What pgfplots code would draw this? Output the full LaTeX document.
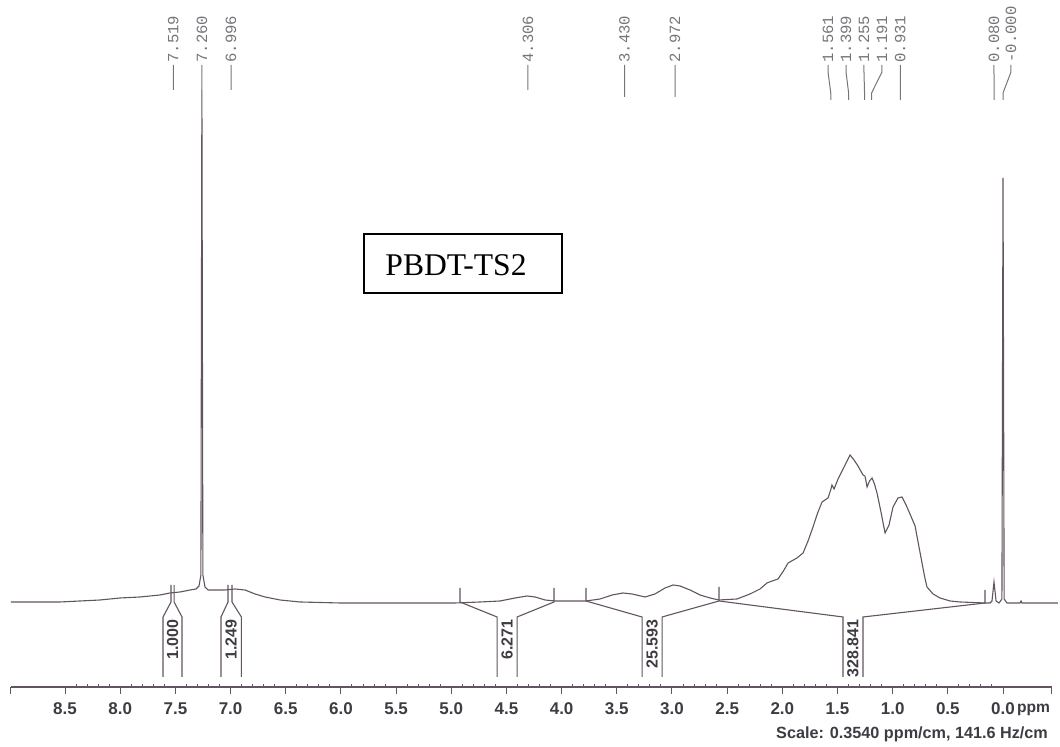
\documentclass[border=0pt]{standalone}
\usepackage{pgfplots}
\pgfplotsset{compat=1.18}
\usepackage{pgfplotstable}
\usepackage{fontspec}
\setmainfont{Liberation Sans}
\newfontfamily\boxfont{Liberation Serif}
\newfontfamily\monofont{Liberation Mono}
\definecolor{spec}{RGB}{98,84,96}
\definecolor{txt}{RGB}{62,60,66}
\definecolor{lbl}{RGB}{120,116,122}

% spectrum: chemical shift (ppm) vs. intensity (arbitrary units)
\pgfplotstableread{
ppm y
8.990 145
8.546 145
8.183 147
8.002 149
7.821 150
7.639 152
7.549 154
7.458 155
7.367 157
7.313 158
7.286 161
7.269 172
7.260 657
7.251 172
7.232 160
7.204 157
7.141 157
7.050 157
6.960 158
6.869 157
6.778 153
6.688 150
6.552 147
6.371 145
6.008 144
5.464 144
4.966 144
4.739 145
4.558 146
4.422 149
4.314 151
4.241 150
4.150 147
4.060 146
3.924 146
3.779 146
3.652 148
3.543 152
3.444 154
3.362 153
3.244 150
3.154 153
3.063 159
2.990 162
2.927 161
2.836 157
2.746 152
2.655 149
2.574 147
2.411 148
2.293 153
2.202 158
2.139 164
2.093 166
2.039 168
1.990 176
1.948 184
1.867 189
1.812 194
1.767 206
1.722 220
1.680 234
1.640 245
1.586 249
1.559 258
1.550 262
1.531 258
1.495 268
1.440 280
1.386 292
1.350 287
1.314 281
1.269 272
1.251 271
1.232 260
1.210 266
1.187 269
1.165 263
1.142 254
1.106 235
1.069 214
1.033 222
0.997 240
0.952 249
0.915 250
0.879 242
0.843 233
0.797 221
0.770 205
0.734 184
0.710 170
0.689 160
0.634 153
0.571 149
0.480 146
0.390 145
0.163 144
0.118 144
0.100 146
0.082 165
0.063 146
0.036 144
0.010 148
0.000 569
-0.010 148
-0.036 144
-0.154 144
-0.163 146
-0.172 144
-0.498 144
}\spectrum

% integral brackets (segments separated by nan)
\pgfplotstableread{
ppm y
7.540 162
7.540 145
7.612 130
7.612 70
nan nan
7.512 162
7.512 145
7.440 130
7.440 70
nan nan
7.023 162
7.023 145
7.087 130
7.087 70
nan nan
6.987 162
6.987 145
6.902 130
6.902 70
nan nan
4.921 159
4.921 145
4.585 130
4.585 70
nan nan
4.069 159
4.069 145
4.404 130
4.404 70
nan nan
3.779 159
3.779 146
3.271 130
3.271 70
nan nan
2.574 160
2.574 146
3.090 130
3.090 70
nan nan
2.574 146
1.450 130
1.450 70
nan nan
0.163 157
0.163 144
1.269 130
1.269 70
}\integrals

% peak label leader lines: label position, peak position
\pgfplotstableread{
ppm y
7.519 682
7.519 657
nan nan
7.260 682
7.260 657
nan nan
6.996 682
6.996 657
nan nan
4.306 682
4.306 657
nan nan
3.430 682
3.430 650
nan nan
2.972 682
2.972 650
nan nan
1.586 682
1.586 675
1.561 654
1.561 647
nan nan
1.423 682
1.423 675
1.399 654
1.399 647
nan nan
1.260 682
1.260 675
1.255 654
1.255 647
nan nan
1.097 682
1.097 675
1.191 654
1.191 647
nan nan
0.931 682
0.931 647
nan nan
0.082 682
0.082 675
0.080 654
0.080 647
nan nan
-0.072 682
-0.072 675
0.000 654
0.000 647
}\leaders

\begin{document}
\begin{tikzpicture}
\useasboundingbox (0,0) rectangle (530pt,373.5pt);
\begin{axis}[
  at={(5.5pt,30pt)}, anchor=south west,
  scale only axis, width=520.3pt, height=343.5pt,
  xmin=-0.44, xmax=8.99, ymin=60, ymax=747,
  x dir=reverse,
  axis x line*=bottom, axis y line=none,
  x axis line style={-, draw=spec, line width=0.6pt},
  clip=false,
  xtick={0,0.5,1,1.5,2,2.5,3,3.5,4,4.5,5,5.5,6,6.5,7,7.5,8,8.5},
  minor x tick num=4,
  extra x ticks={-0.44,8.99}, extra x tick labels={},
  tick align=outside,
  major tick length=3.5pt, minor tick length=1.5pt,
  every tick/.style={draw=spec, line width=0.5pt},
  minor tick style={yshift=1.5pt, draw=spec, line width=0.5pt},
  x tick label style={font=\bfseries\fontsize{8.5}{10}\selectfont, text=txt, yshift=-1pt,
     /pgf/number format/.cd, fixed, fixed zerofill, precision=1, assume math mode=true, /tikz/.cd},
  unbounded coords=jump,
]
\addplot[spec, line width=0.55pt] table[x=ppm,y=y]{\spectrum};
\addplot[spec, line width=0.55pt] table[x=ppm,y=y]{\integrals};
\addplot[lbl, line width=0.5pt] table[x=ppm,y=y]{\leaders};

% integral values
\begin{scope}[every node/.style={rotate=90, anchor=east, inner sep=0pt, text=txt,
    font=\bfseries\fontsize{8}{9}\selectfont}]
\node at (axis cs:7.526,128) {1.000};
\node at (axis cs:6.995,128) {1.249};
\node at (axis cs:4.495,128) {6.271};
\node at (axis cs:3.180,128) {25.593};
\node at (axis cs:1.360,128) {328.841};
\end{scope}

% peak labels
\begin{scope}[every node/.style={rotate=90, anchor=west, inner sep=0pt, text=lbl,
    font=\monofont\fontsize{7.8}{9}\selectfont}]
\node at (axis cs:7.519,684) {7.519};
\node at (axis cs:7.260,684) {7.260};
\node at (axis cs:6.996,684) {6.996};
\node at (axis cs:4.306,684) {4.306};
\node at (axis cs:3.430,684) {3.430};
\node at (axis cs:2.972,684) {2.972};
\node at (axis cs:1.586,684) {1.561};
\node at (axis cs:1.423,684) {1.399};
\node at (axis cs:1.260,684) {1.255};
\node at (axis cs:1.097,684) {1.191};
\node at (axis cs:0.931,684) {0.931};
\node at (axis cs:0.082,684) {0.080};
\node at (axis cs:-0.072,684) {-0.000};
\end{scope}

% sample label box
\draw[black, line width=0.8pt] (axis cs:5.791,513) rectangle (axis cs:3.996,454);
\node[anchor=west, inner sep=0pt, font=\boxfont\fontsize{15.8}{18}\selectfont] at (axis cs:5.600,482) {PBDT-TS2};

% axis unit and scale
\node[anchor=east, inner sep=0pt, text=txt, font=\bfseries\fontsize{7.8}{10}\selectfont] at (axis cs:-0.43,37) {ppm};
\node[anchor=east, inner sep=0pt, text=txt, font=\bfseries\fontsize{8.1}{10}\selectfont] at (axis cs:-0.41,13) {Scale: 0.3540 ppm/cm, 141.6 Hz/cm};
\end{axis}
\end{tikzpicture}
\end{document}
